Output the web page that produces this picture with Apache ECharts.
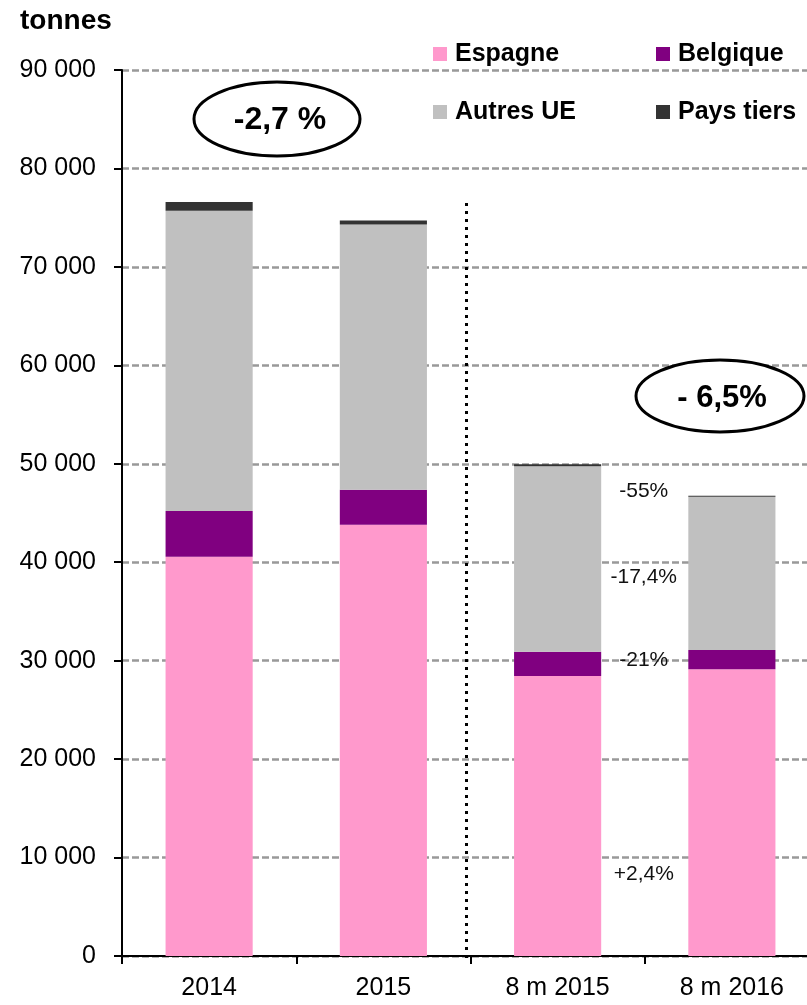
<!DOCTYPE html>
<html>
<head>
<meta charset="utf-8">
<script src="https://cdn.jsdelivr.net/npm/echarts@6/dist/echarts.min.js"></script>
<style>
  html, body { margin: 0; padding: 0; background: #fff; }
  #chart { width: 807px; height: 1005px; }
</style>
</head>
<body>
<div id="chart"></div>
<script>
const categories = ['2014', '2015', '8 m 2015', '8 m 2016']
const espagne = [40550, 43800, 28450, 29130]
const belgique = [4650, 3550, 2450, 1950]
const autresUE = [30500, 26950, 18850, 15570]
const paysTiers = [900, 400, 200, 90]

const seriesNames = ['Espagne', 'Belgique', 'Autres UE', 'Pays tiers']
const seriesColors = ['#FF99CC', '#800080', '#C0C0C0', '#333333']

// evolution labels between the two "8 m" bars, at the value level they sit on
const evoLabels = ['-55%', '-17,4%', '-21%', '+2,4%']
const evoLevels = [47200, 38500, 30000, 8300]

const yTicks = { min: 0, max: 90000, interval: 10000 }

const font = 'Liberation Sans, Arial, sans-serif'

const chart = echarts.init(document.getElementById('chart'), null, { renderer: 'canvas' })

const legendText = { fontFamily: font, fontSize: 25, fontWeight: 'bold', color: '#000', padding: [0, 0, 0, 3], lineHeight: 28 }

chart.setOption({
  animation: false,
  textStyle: { fontFamily: font },
  // the plot runs past the right edge of the picture, as in the original
  grid: { left: 122, width: 697, top: 70, bottom: 49, containLabel: false, outerBoundsMode: 'none' },
  legend: [
    {
      left: 433, top: 40, orient: 'vertical', itemGap: 30, padding: 0,
      itemWidth: 14, itemHeight: 14, icon: 'rect',
      data: ['Espagne', 'Autres UE'], textStyle: legendText,
    },
    {
      left: 656, top: 40, orient: 'vertical', itemGap: 30, padding: 0,
      itemWidth: 14, itemHeight: 14, icon: 'rect',
      data: ['Belgique', 'Pays tiers'], textStyle: legendText,
    },
  ],
  xAxis: {
    type: 'category',
    data: categories,
    axisLine: { lineStyle: { color: '#000', width: 2 } },
    axisTick: { show: true, length: 8, lineStyle: { color: '#000', width: 2 } },
    axisLabel: { color: '#000', fontSize: 25, fontFamily: font, margin: 20 },
  },
  yAxis: {
    type: 'value',
    min: yTicks.min,
    max: yTicks.max,
    interval: yTicks.interval,
    axisLine: { show: true, lineStyle: { color: '#000', width: 2 } },
    axisTick: { show: true, length: 8, lineStyle: { color: '#000', width: 2 } },
    axisLabel: {
      color: '#000', fontSize: 25, fontFamily: font, margin: 26,
      formatter: (v) => String(v).replace(/\B(?=(\d{3})+(?!\d))/g, ' '),
    },
    splitLine: { lineStyle: { color: '#999', width: 2.5, type: [7, 3] } },
  },
  series: [espagne, belgique, autresUE, paysTiers].map((d, i) => ({
    name: seriesNames[i],
    type: 'bar',
    stack: 'total',
    barWidth: '50%',
    data: d,
    itemStyle: { color: seriesColors[i] },
    z: 3,
  })),
})

function drawOverlay() {
  // separator sits just left of the tick between 2015 and 8 m 2015
  const xMid = (chart.convertToPixel({ xAxisIndex: 0 }, categories[1]) +
    chart.convertToPixel({ xAxisIndex: 0 }, categories[2])) / 2 - 4
  const xEvo = (chart.convertToPixel({ xAxisIndex: 0 }, categories[2]) +
    chart.convertToPixel({ xAxisIndex: 0 }, categories[3])) / 2 - 1
  const y0 = chart.convertToPixel({ yAxisIndex: 0 }, 0)
  const yTop = chart.convertToPixel({ yAxisIndex: 0 }, 76500)

  const graphics = [
    {
      type: 'text', left: 20, top: 7,
      style: { text: 'tonnes', font: 'bold 28px ' + font, fill: '#000' },
    },
    {
      type: 'line', z: 10,
      shape: { x1: xMid, y1: yTop, x2: xMid, y2: y0 + 4 },
      style: { stroke: '#000', lineWidth: 3, lineDash: [3, 5] },
    },
    {
      type: 'ellipse', z: 10,
      shape: { cx: 277, cy: 119, rx: 83, ry: 37 },
      style: { fill: '#fff', stroke: '#000', lineWidth: 3 },
    },
    {
      type: 'text', z: 11, x: 280, y: 120,
      style: { text: '-2,7 %', font: 'bold 32px ' + font, fill: '#000', textAlign: 'center', textVerticalAlign: 'middle' },
    },
    {
      type: 'ellipse', z: 10,
      shape: { cx: 720, cy: 396, rx: 84, ry: 36 },
      style: { fill: '#fff', stroke: '#000', lineWidth: 3 },
    },
    {
      type: 'text', z: 11, x: 722, y: 398,
      style: { text: '- 6,5%', font: 'bold 31px ' + font, fill: '#000', textAlign: 'center', textVerticalAlign: 'middle' },
    },
  ]

  evoLabels.forEach((t, i) => {
    graphics.push({
      type: 'text', z: 11, x: xEvo, y: chart.convertToPixel({ yAxisIndex: 0 }, evoLevels[i]),
      style: { text: t, font: '21px ' + font, fill: '#111', textAlign: 'center', textVerticalAlign: 'middle' },
    })
  })

  chart.setOption({ graphic: graphics })
}

drawOverlay()
</script>
</body>
</html>
